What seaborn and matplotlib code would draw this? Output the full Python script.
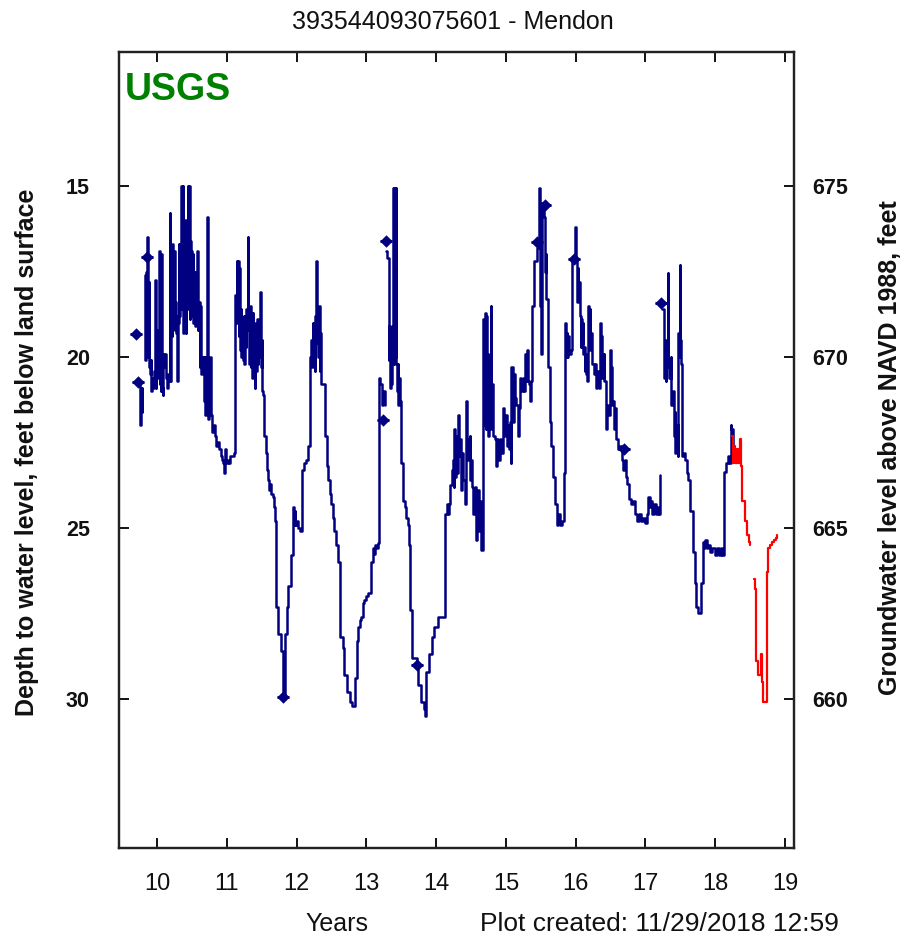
import matplotlib
matplotlib.use('Agg')
import matplotlib.pyplot as plt
import seaborn as sns
import pandas as pd

# Years (since 2000) and depth to water, feet below land surface
approved_1 = [(9.74, 20.8), (9.75, 21.5), (9.76, 22.0), (9.77, 21.6), (9.78, 20.9), (9.79, 21.6)]

approved_2 = [
    (9.82, 17.6), (9.83, 20.1), (9.84, 17.5), (9.85, 19.5), (9.86, 16.5), (9.865, 18.2), (9.87, 20.0),
    (9.88, 17.8), (9.89, 20.3), (9.90, 20.5), (9.91, 20.1), (9.92, 21.0), (9.93, 20.6), (9.94, 20.9),
    (9.96, 20.4), (9.97, 17.75), (9.98, 20.9), (9.99, 19.2), (10.00, 20.6), (10.01, 20.2), (10.03, 16.9),
    (10.035, 20.8), (10.04, 17.2), (10.05, 21.0), (10.06, 17.0), (10.07, 20.9), (10.08, 21.1), (10.09, 19.9),
    (10.10, 20.3), (10.11, 19.9), (10.13, 20.6), (10.14, 20.9), (10.15, 20.5), (10.17, 20.7), (10.18, 15.8),
    (10.19, 20.7), (10.20, 16.8), (10.21, 19.4), (10.22, 16.7), (10.23, 18.6), (10.24, 16.9), (10.25, 19.2),
    (10.26, 18.4), (10.27, 19.3), (10.28, 18.8), (10.29, 20.7), (10.30, 19.0), (10.31, 16.7), (10.32, 18.8),
    (10.33, 16.7), (10.34, 18.6), (10.35, 15.0), (10.36, 18.3), (10.365, 15.0), (10.37, 19.3), (10.38, 16.2),
    (10.39, 18.6), (10.40, 16.0), (10.41, 19.3), (10.42, 16.5), (10.43, 18.4), (10.44, 15.0), (10.45, 18.6),
    (10.46, 15.0), (10.465, 18.9), (10.47, 16.6), (10.48, 18.2), (10.49, 16.9), (10.50, 18.8), (10.51, 17.0),
    (10.52, 19.0), (10.53, 18.6), (10.54, 17.5), (10.55, 19.1), (10.56, 18.4), (10.57, 16.9), (10.58, 19.2),
    (10.59, 18.5), (10.60, 18.4), (10.61, 20.3), (10.62, 18.5), (10.63, 20.5), (10.64, 20.0), (10.65, 20.4),
    (10.66, 20.0), (10.67, 21.3), (10.68, 20.0), (10.69, 21.7), (10.70, 20.4), (10.71, 21.6), (10.72, 15.9),
    (10.725, 20.1), (10.73, 21.8), (10.74, 20.1), (10.75, 21.3), (10.76, 20.0), (10.77, 21.7), (10.78, 21.7),
    (10.79, 22.2), (10.81, 22.0), (10.83, 22.3), (10.85, 22.6), (10.87, 22.5), (10.89, 22.7), (10.91, 22.9),
    (10.93, 23.0), (10.95, 23.1), (10.96, 23.4), (10.97, 23.0), (10.98, 22.7), (10.99, 23.1), (11.01, 23.0),
    (11.03, 23.1), (11.05, 22.9), (11.07, 22.9), (11.10, 22.8), (11.12, 18.2), (11.13, 19.0), (11.14, 17.2),
    (11.15, 18.4), (11.16, 17.2), (11.17, 19.4), (11.18, 17.4), (11.19, 19.8), (11.20, 18.6), (11.21, 20.0),
    (11.22, 18.9), (11.23, 20.1), (11.24, 18.8), (11.25, 20.2), (11.26, 19.0), (11.27, 19.7), (11.28, 18.6),
    (11.30, 16.5), (11.31, 19.2), (11.32, 20.2), (11.33, 18.5), (11.34, 20.3), (11.35, 18.8), (11.36, 20.6),
    (11.37, 18.7), (11.38, 20.5), (11.39, 19.4), (11.40, 20.9), (11.41, 19.0), (11.42, 20.4), (11.43, 18.9),
    (11.44, 20.2), (11.45, 19.3), (11.46, 20.0), (11.48, 18.1), (11.49, 20.3), (11.50, 19.5), (11.51, 21.0),
    (11.52, 21.1), (11.53, 22.3), (11.56, 22.8), (11.57, 23.3), (11.59, 23.6), (11.61, 23.9), (11.62, 23.7),
    (11.64, 24.0), (11.66, 24.1), (11.67, 24.4), (11.69, 24.8), (11.71, 27.3), (11.74, 28.1), (11.78, 28.6),
    (11.80, 29.9), (11.83, 28.1), (11.86, 27.3), (11.88, 26.7), (11.92, 25.8), (11.95, 24.4), (11.96, 24.9),
    (11.97, 24.5), (11.98, 24.9), (12.00, 24.8), (12.02, 25.0), (12.05, 25.1), (12.08, 23.3), (12.11, 23.1),
    (12.14, 23.0), (12.16, 22.6), (12.19, 20.0), (12.21, 19.5), (12.22, 20.3), (12.23, 19.0), (12.24, 20.2),
    (12.25, 19.2), (12.26, 20.4), (12.27, 18.8), (12.28, 17.2), (12.29, 19.6), (12.30, 18.6), (12.31, 20.0),
    (12.32, 18.5), (12.33, 20.4), (12.34, 19.3), (12.35, 20.8), (12.37, 20.8), (12.40, 22.3), (12.43, 23.2),
    (12.45, 23.6), (12.48, 24.0), (12.50, 24.3), (12.52, 24.7), (12.54, 25.1), (12.57, 25.5), (12.60, 26.0),
    (12.62, 28.2), (12.66, 28.5), (12.68, 29.3), (12.72, 29.8), (12.76, 30.1), (12.80, 30.2), (12.84, 29.4),
    (12.86, 28.3), (12.88, 27.9), (12.91, 27.7), (12.93, 27.6), (12.95, 27.2), (12.97, 27.1), (13.00, 27.0),
    (13.02, 26.9), (13.07, 26.0), (13.09, 25.6), (13.11, 25.75), (13.13, 25.5), (13.15, 25.6), (13.17, 25.45),
    (13.18, 20.6), (13.20, 20.8), (13.22, 21.4), (13.24, 21.0), (13.26, 21.4),
]

approved_3 = [
    (13.28, 16.9), (13.29, 17.1), (13.31, 17.1), (13.32, 20.1), (13.33, 19.1), (13.34, 20.9), (13.35, 19.3),
    (13.36, 20.8), (13.37, 19.1), (13.38, 15.05), (13.39, 20.2), (13.40, 15.05), (13.41, 20.0), (13.42, 15.05),
    (13.43, 20.2), (13.44, 21.0), (13.45, 20.2), (13.46, 21.4), (13.47, 20.6), (13.48, 21.3), (13.49, 23.1),
    (13.53, 24.2), (13.55, 24.4), (13.57, 24.7), (13.59, 24.9), (13.61, 25.5), (13.63, 27.4), (13.66, 28.8),
    (13.72, 29.0), (13.74, 29.6), (13.79, 30.1), (13.82, 30.3), (13.84, 30.5), (13.86, 29.2), (13.90, 28.7),
    (13.94, 28.2), (13.97, 27.9), (14.02, 27.6), (14.08, 27.6), (14.13, 24.6), (14.15, 24.3), (14.17, 24.6),
    (14.19, 24.3), (14.20, 23.75), (14.23, 23.3), (14.24, 23.0), (14.25, 23.8), (14.26, 22.1), (14.27, 23.5),
    (14.28, 22.3), (14.30, 23.4), (14.32, 21.7), (14.33, 22.9), (14.34, 22.4), (14.35, 23.9), (14.37, 22.8),
    (14.39, 23.6), (14.41, 24.3), (14.43, 21.3), (14.44, 22.4), (14.46, 23.0), (14.48, 22.3), (14.49, 23.6),
    (14.50, 23.0), (14.52, 23.8), (14.53, 24.6), (14.55, 23.8), (14.57, 25.35), (14.59, 23.9), (14.61, 25.1),
    (14.63, 24.2), (14.65, 25.65), (14.67, 18.9), (14.68, 22.0), (14.69, 19.0), (14.70, 18.7), (14.71, 22.1),
    (14.72, 18.8), (14.73, 21.5), (14.74, 19.9), (14.75, 22.3), (14.76, 20.2), (14.77, 21.6), (14.78, 18.5),
    (14.79, 22.1), (14.80, 20.8), (14.82, 22.3), (14.84, 22.4), (14.86, 23.2), (14.87, 22.4), (14.89, 23.0),
    (14.91, 22.4), (14.93, 22.8), (14.96, 21.5), (14.97, 22.3), (14.99, 21.7), (15.01, 22.6), (15.03, 22.0),
    (15.05, 22.7), (15.06, 21.9), (15.07, 23.1), (15.08, 20.3), (15.10, 21.9), (15.12, 20.5), (15.13, 21.2),
    (15.15, 21.4), (15.17, 22.3), (15.19, 21.5), (15.20, 20.6), (15.22, 21.0), (15.24, 20.6), (15.26, 21.0),
    (15.27, 19.9), (15.29, 20.7), (15.30, 19.8), (15.32, 20.7), (15.33, 20.8), (15.34, 21.3), (15.36, 20.7),
    (15.37, 18.5), (15.40, 17.2), (15.45, 16.8), (15.48, 15.07), (15.49, 18.5), (15.50, 15.6), (15.51, 19.9),
    (15.52, 15.5), (15.54, 15.9), (15.56, 17.5), (15.57, 17.0), (15.58, 18.3), (15.60, 19.2), (15.61, 20.3),
    (15.63, 21.9), (15.65, 22.6), (15.68, 23.5), (15.71, 24.3), (15.73, 24.9), (15.75, 24.6), (15.77, 24.9),
    (15.80, 24.8), (15.83, 23.4), (15.85, 19.0), (15.86, 20.0), (15.87, 19.3), (15.88, 20.0), (15.89, 19.4),
    (15.91, 19.9), (15.93, 19.8), (15.95, 17.2), (15.99, 16.2), (16.01, 17.2), (16.02, 18.4), (16.03, 17.4),
    (16.04, 18.3), (16.05, 17.8), (16.06, 18.8), (16.07, 19.7), (16.08, 18.9), (16.09, 19.6), (16.10, 19.0),
    (16.11, 19.9), (16.12, 19.7), (16.13, 20.4), (16.14, 19.9), (16.15, 20.5), (16.16, 20.7), (16.18, 18.5),
    (16.19, 19.7), (16.20, 18.6), (16.21, 19.8), (16.22, 19.3), (16.24, 20.2), (16.26, 20.5), (16.27, 20.2),
    (16.29, 20.9), (16.31, 20.4), (16.33, 20.9), (16.35, 19.0), (16.36, 20.5), (16.37, 19.4), (16.38, 20.6),
    (16.40, 19.9), (16.41, 20.7), (16.43, 21.3), (16.44, 22.1), (16.45, 21.4), (16.47, 21.7), (16.49, 19.8),
    (16.50, 21.2), (16.51, 20.3), (16.52, 21.4), (16.54, 21.3), (16.55, 22.1), (16.56, 21.5), (16.58, 22.4),
    (16.60, 22.7), (16.63, 22.6), (16.66, 23.0), (16.68, 23.3), (16.70, 23.0), (16.72, 23.5), (16.74, 23.7),
    (16.77, 24.15), (16.80, 24.3), (16.82, 24.2), (16.85, 24.6), (16.88, 24.8), (16.91, 24.6), (16.94, 24.8),
    (16.97, 24.7), (17.00, 24.85), (17.02, 24.6), (17.04, 24.1), (17.06, 24.4), (17.08, 24.2), (17.10, 24.6),
    (17.12, 24.3), (17.15, 24.6), (17.18, 24.4), (17.20, 24.6), (17.21, 23.45),
]

approved_4 = [
    (17.24, 18.6), (17.26, 19.4), (17.27, 20.6), (17.28, 19.5), (17.29, 20.7), (17.30, 19.6), (17.31, 20.3),
    (17.32, 17.55), (17.33, 20.2), (17.34, 20.6), (17.36, 20.0), (17.37, 21.4), (17.39, 21.0), (17.41, 22.3),
    (17.42, 21.6), (17.43, 22.8), (17.44, 22.0), (17.46, 22.9), (17.47, 19.3), (17.48, 20.0), (17.49, 17.3),
    (17.50, 19.5), (17.51, 20.2), (17.52, 20.5), (17.53, 22.9), (17.55, 22.8), (17.57, 23.0), (17.59, 23.4),
    (17.61, 23.6), (17.64, 24.5), (17.68, 25.7), (17.71, 26.6), (17.73, 27.3), (17.75, 27.5), (17.78, 27.5),
    (17.80, 26.6), (17.82, 25.4), (17.84, 25.6), (17.86, 25.35), (17.88, 25.6), (17.90, 25.5), (17.93, 25.7),
    (17.96, 25.6), (17.99, 25.8), (18.02, 25.6), (18.05, 25.8), (18.08, 25.6), (18.10, 25.8), (18.12, 23.35),
    (18.15, 23.1), (18.18, 22.9), (18.20, 23.1), (18.22, 22.0), (18.23, 22.1), (18.25, 22.6),
]

provisional_1 = [
    (18.24, 22.3), (18.26, 23.1), (18.27, 22.6), (18.29, 23.1), (18.31, 22.7), (18.33, 23.1), (18.35, 22.4),
    (18.37, 23.2), (18.39, 24.2), (18.43, 24.8), (18.46, 25.2), (18.48, 25.4), (18.50, 25.5),
]

provisional_2 = [
    (18.56, 26.5), (18.57, 26.8), (18.59, 28.9), (18.62, 29.3), (18.65, 28.7), (18.67, 29.5), (18.69, 30.1),
    (18.72, 30.1), (18.74, 26.3), (18.76, 25.6), (18.78, 25.5), (18.81, 25.4), (18.84, 25.35), (18.87, 25.3),
    (18.89, 25.2),
]

# discrete field measurements
field_years = [9.70, 9.72, 9.85, 11.81, 13.24, 13.28, 13.73, 15.44, 15.56, 15.97, 16.69, 17.23]
field_depths = [19.33, 20.74, 17.08, 29.94, 21.85, 16.6, 29.0, 16.63, 15.56, 17.14, 22.7, 18.43]

year_ticks = [10, 11, 12, 13, 14, 15, 16, 17, 18, 19]
depth_ticks = [15, 20, 25, 30]
elev_ticks = [660, 665, 670, 675]
land_surface = 690.0

NAVY = '#000080'
RED = '#ff0000'

rows = []
for name, seg, status in [('a1', approved_1, 'A'), ('a2', approved_2, 'A'), ('a3', approved_3, 'A'),
                          ('a4', approved_4, 'A'), ('p1', provisional_1, 'P'), ('p2', provisional_2, 'P')]:
    for t, d in seg:
        rows.append({'seg': name, 'status': status, 'year': t, 'depth': d})
df = pd.DataFrame(rows)
field = pd.DataFrame({'year': field_years, 'depth': field_depths})

sns.set_style('ticks')
plt.rcParams['font.family'] = ['Liberation Sans', 'DejaVu Sans']

fig = plt.figure(figsize=(9.08, 9.42), dpi=100)
ax = fig.add_axes([0.1311, 0.0998, 0.7434, 0.8450])

sns.lineplot(data=df[df.status == 'A'], x='year', y='depth', units='seg', estimator=None, sort=False,
             color=NAVY, lw=1.8, drawstyle='steps-post', legend=False, ax=ax)
sns.lineplot(data=df[df.status == 'P'], x='year', y='depth', units='seg', estimator=None, sort=False,
             color=RED, lw=1.6, drawstyle='steps-post', legend=False, ax=ax)
sns.scatterplot(data=field, x='year', y='depth', marker='D', s=40, color=NAVY, linewidth=0, ax=ax, zorder=5)
sns.scatterplot(data=field, x='year', y='depth', marker='_', s=75, color=NAVY, linewidth=2.2, ax=ax, zorder=5)

ax.set_xlim(9.455, 19.13)
ax.set_ylim(34.36, 11.08)
ax.set_xticks(year_ticks)
ax.set_xticklabels([str(y) for y in year_ticks], fontsize=17)
ax.set_yticks(depth_ticks)
ax.set_yticklabels([str(d) for d in depth_ticks], fontsize=15.5, fontweight='bold')
ax.set_xlabel('')
ax.set_ylabel('')
ax.tick_params(axis='x', direction='in', length=7, width=1.4, top=True, pad=18, colors='#111111')
ax.tick_params(axis='y', direction='in', length=7, width=1.4, right=False, pad=21, colors='#111111')

ax2 = ax.twinx()
ax2.set_ylim(land_surface - 34.36, land_surface - 11.08)
ax2.set_yticks(elev_ticks)
ax2.set_yticklabels([str(e) for e in elev_ticks], fontsize=15.5, fontweight='bold')
ax2.tick_params(axis='y', direction='in', length=7, width=1.4, pad=13, colors='#111111')

for a in (ax, ax2):
    for sp in a.spines.values():
        sp.set_linewidth(1.6)
        sp.set_color('#222222')

ax.text(0.009, 0.9397, 'USGS', transform=ax.transAxes, fontsize=27, fontweight='bold',
        color='#008000', va='baseline', ha='left')

fig.text(0.499, 0.969, '393544093075601 - Mendon', ha='center', va='baseline', fontsize=18, color='#111111')
fig.text(27 / 908, 0.52, 'Depth to water level, feet below land surface', rotation=90,
         ha='center', va='center', fontsize=18, fontweight='bold', color='#111111')
fig.text(890 / 908, 0.525, 'Groundwater level above NAVD 1988, feet', rotation=90,
         ha='center', va='center', fontsize=18, fontweight='bold', color='#111111')
fig.text(337 / 908, 0.0117, 'Years', ha='center', va='baseline', fontsize=18, color='#111111')
fig.text(480 / 908, 0.0117, 'Plot created: 11/29/2018 12:59', ha='left', va='baseline', fontsize=19,
         color='#111111')

fig.savefig('out.png', dpi=100, facecolor='white')
